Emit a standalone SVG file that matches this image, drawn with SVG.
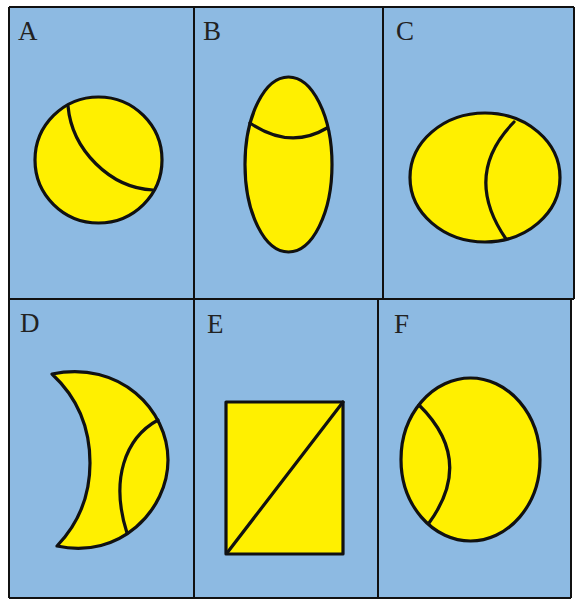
<svg xmlns="http://www.w3.org/2000/svg" width="578" height="600" viewBox="0 0 578 600">
<style>
.bg{fill:#8dbae2;}
.grid{stroke:#111;stroke-width:2;fill:none;}
.shape{fill:#fff000;stroke:#111;stroke-width:3.2;stroke-linejoin:round;}
.line{fill:none;stroke:#111;stroke-width:3.2;stroke-linecap:round;}
.lbl{font-family:"Liberation Serif","Times New Roman",serif;font-size:27px;fill:#222;}
</style>
<rect x="0" y="0" width="578" height="600" fill="#ffffff"/>
<path class="bg" d="M9,7 H574 V299 H571 V598 H9 Z"/>
<g id="grid">
<path class="grid" d="M9,7 H574 M9,299 H574 M9,598 H571 M9,7 V598 M194,7 V598 M383,7 V299 M378,299 V598 M574,7 V299 M571,299 V598"/>
</g>
<g id="panel-A">
<text class="lbl" x="18" y="40">A</text>
<ellipse class="shape" cx="98.5" cy="160" rx="63.5" ry="63"/>
<path class="line" d="M68,106 C72,150 110,188 153,190"/>
</g>
<g id="panel-B">
<text class="lbl" x="203" y="40">B</text>
<ellipse class="shape" cx="288.5" cy="164.5" rx="43.5" ry="87.5"/>
<path class="line" d="M250,123 Q290,150 327,128"/>
</g>
<g id="panel-C">
<text class="lbl" x="396" y="40">C</text>
<ellipse class="shape" cx="485" cy="177.5" rx="75" ry="64.5"/>
<path class="line" d="M514,122 Q462,175 506,239"/>
</g>
<g id="panel-D">
<text class="lbl" x="20" y="332">D</text>
<path class="shape" d="M52,374 C120,360 168,410 168,460 C168,510 120,560 57,546 C80,522 90,495 90,463 C90,430 80,400 52,374 Z"/>
<path class="line" d="M158,420 C125,438 110,480 127,533"/>
</g>
<g id="panel-E">
<text class="lbl" x="207" y="333">E</text>
<rect class="shape" x="226" y="402" width="117" height="152"/>
<path class="line" d="M343,402 L227,553"/>
</g>
<g id="panel-F">
<text class="lbl" x="394" y="333">F</text>
<ellipse class="shape" cx="470.5" cy="459.5" rx="69.5" ry="81.5"/>
<path class="line" d="M419,405 Q475,460 429,523"/>
</g>
</svg>
